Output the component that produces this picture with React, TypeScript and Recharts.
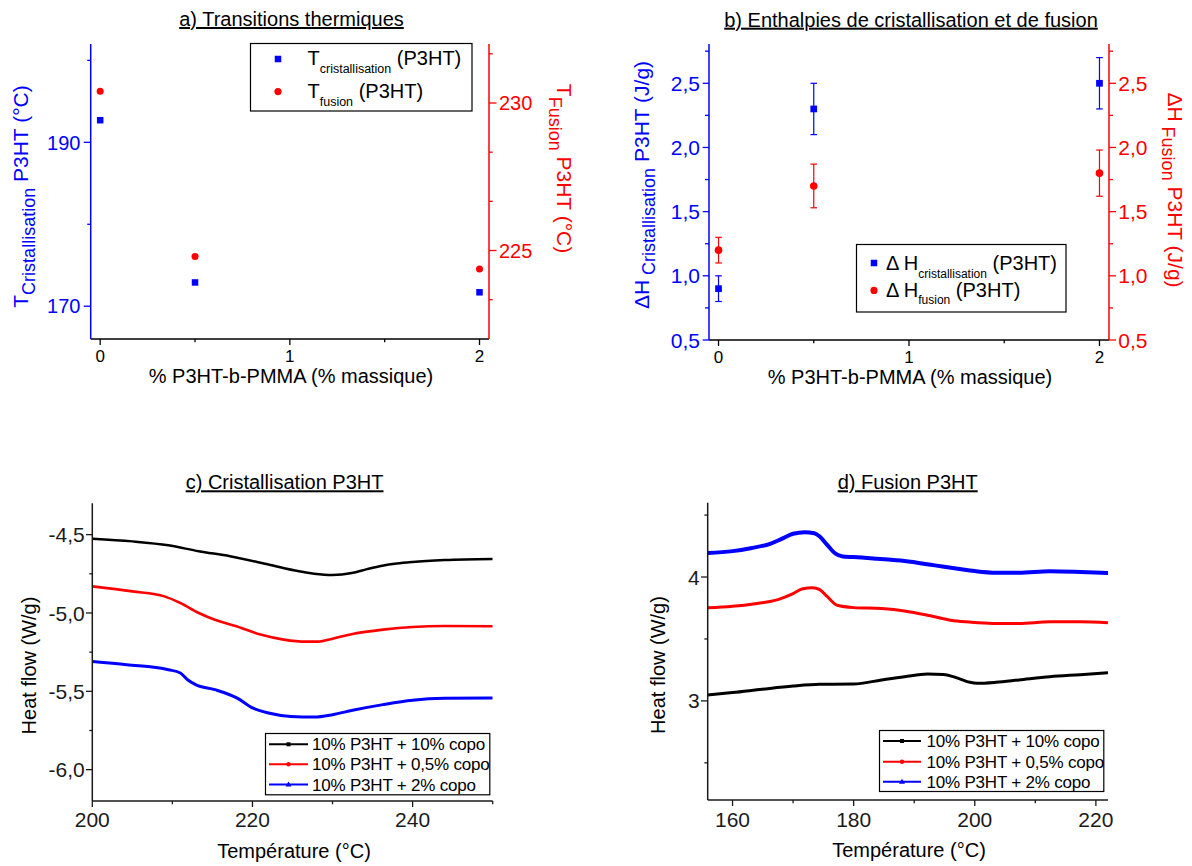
import React from 'react';
import { ScatterChart, Scatter, LineChart, Line, XAxis, YAxis, ErrorBar, Legend } from 'recharts';

const FONT = '"Liberation Sans", Arial, Helvetica, sans-serif';
const BLUE = '#0000ff';
const RED = '#ff0000';
const BLACK = '#000000';
const AXIS_DARK = '#1a1a1a';
const PAGE_W = 1192;
const PAGE_H = 866;

// ---------- a) Transitions thermiques ----------
const aCopo = [0, 0.5, 2];
const aTCristallisation = [192.7, 172.9, 171.7];
const aTFusion = [230.4, 224.8, 224.37];
const aXTicks = [0, 0.5, 1, 1.5, 2];
const aXTickLabels = ['0', '', '1', '', '2'];
const aLeftTicks = [170, 180, 190, 200];
const aLeftTickLabels = ['170', '', '190', ''];
const aRightTicks = [223.333, 225, 226.667, 228.333, 230, 231.667];
const aRightTickLabels = ['', '225', '', '', '230', ''];

// ---------- b) Enthalpies ----------
const bCopo = [0, 0.5, 2];
const bHCristallisation = [0.9, 2.3, 2.5];
const bHCristallisationErr = [0.1, 0.2, 0.2];
const bHFusion = [1.2, 1.7, 1.8];
const bHFusionErr = [0.1, 0.17, 0.18];
const bXTicks = [0, 0.5, 1, 1.5, 2];
const bXTickLabels = ['0', '', '1', '', '2'];
const bYTicks = [0.5, 0.75, 1, 1.25, 1.5, 1.75, 2, 2.25, 2.5, 2.75];
const bYTickLabels = ['0,5', '', '1,0', '', '1,5', '', '2,0', '', '2,5', ''];

// ---------- c) Cristallisation P3HT ----------
const cT10 = [200, 205, 209.5, 213.3, 217.2, 222, 225.8, 227.7, 230, 232.4, 234.3, 236.2, 238, 240, 244, 250];
const cHF10 = [-4.526, -4.543, -4.568, -4.606, -4.638, -4.691, -4.734, -4.749, -4.757, -4.745, -4.72, -4.698, -4.684, -4.674, -4.662, -4.655];
const cT05 = [200, 205, 209, 211, 213.3, 215.3, 218, 221, 223.9, 226.7, 228.2, 230, 232.5, 236.3, 240, 244, 250];
const cHF05 = [-4.83, -4.862, -4.894, -4.936, -5.0, -5.043, -5.085, -5.138, -5.17, -5.183, -5.183, -5.164, -5.134, -5.106, -5.089, -5.083, -5.085];
const cT2 = [200, 204.3, 209.5, 211, 211.9, 212.9, 215.3, 218.1, 220, 222, 224.8, 227.7, 230, 232.5, 236.3, 240, 244, 250];
const cHF2 = [-5.309, -5.33, -5.362, -5.383, -5.426, -5.457, -5.489, -5.543, -5.606, -5.638, -5.66, -5.664, -5.649, -5.621, -5.585, -5.557, -5.545, -5.543];
const cXTicks = [200, 210, 220, 230, 240, 250];
const cXTickLabels = ['200', '', '220', '', '240', ''];
const cYTicks = [-6, -5.75, -5.5, -5.25, -5, -4.75, -4.5];
const cYTickLabels = ['-6,0', '', '-5,5', '', '-5,0', '', '-4,5'];

// ---------- d) Fusion P3HT ----------
const dT2 = [155.9, 160, 163, 166.2, 168.1, 170, 171.9, 173.5, 174.4, 175.7, 177, 178.2, 180, 183.9, 188.4, 193.4, 197.2, 200, 203.5, 207.3, 212.4, 217.5, 222];
const dHF2 = [4.193, 4.209, 4.233, 4.268, 4.308, 4.349, 4.362, 4.354, 4.327, 4.255, 4.188, 4.166, 4.161, 4.147, 4.129, 4.094, 4.067, 4.048, 4.035, 4.035, 4.046, 4.04, 4.032];
const dT05 = [155.9, 160, 163.7, 167.5, 170, 171.6, 173.2, 174.4, 175.7, 177.3, 180, 184.6, 188.4, 192.2, 196, 198.5, 200, 203.5, 207.3, 212.4, 217.4, 222];
const dHF05 = [3.751, 3.764, 3.785, 3.818, 3.866, 3.906, 3.914, 3.898, 3.839, 3.772, 3.753, 3.745, 3.726, 3.692, 3.651, 3.638, 3.633, 3.625, 3.625, 3.638, 3.638, 3.63];
const dT10 = [155.9, 160, 164.9, 170, 174.4, 180, 184.6, 188.4, 192.2, 194.8, 197.3, 199.2, 200.4, 203.5, 207.3, 212.4, 217.4, 222];
const dHF10 = [3.048, 3.067, 3.094, 3.12, 3.134, 3.136, 3.169, 3.195, 3.217, 3.214, 3.182, 3.15, 3.142, 3.15, 3.169, 3.195, 3.212, 3.228];
const dXTicks = [160, 170, 180, 190, 200, 210, 220];
const dXTickLabels = ['160', '', '180', '', '200', '', '220'];
const dYTicks = [2.5, 3, 3.5, 4, 4.5];
const dYTickLabels = ['', '3', '', '4', ''];

const seriesNames = ['10% P3HT + 10% copo', '10% P3HT + 0,5% copo', '10% P3HT + 2% copo'];

// ---------- built tables ----------
const zip = (xs: number[], ys: number[], key = 'y') => xs.map((x, i) => ({ x, [key]: ys[i] }));
const aCristData = zip(aCopo, aTCristallisation);
const aFusionData = zip(aCopo, aTFusion);
const bCristData = bCopo.map((x, i) => ({ x, y: bHCristallisation[i], e: bHCristallisationErr[i] }));
const bFusionData = bCopo.map((x, i) => ({ x, y: bHFusion[i], e: bHFusionErr[i] }));
const curve = (ts: number[], vs: number[]) => ts.map((t, i) => ({ t, v: vs[i] }));

// ---------- ticks ----------
type Side = 'left' | 'right' | 'bottom';
interface TickCfg {
  side: Side; ticks: number[]; labels: string[]; color: string; fontSize: number;
  majorLen: number; minorLen: number; gap: number;
}
function makeTick(c: TickCfg) {
  return (props: any) => {
    const x = Number(props.x);
    const y = Number(props.y);
    const v = props.payload ? props.payload.value : NaN;
    const i = c.ticks.findIndex((t) => Math.abs(t - v) < 1e-3);
    const label = i >= 0 ? c.labels[i] : '';
    const len = label ? c.majorLen : c.minorLen;
    const txt = { fill: c.color, fontSize: c.fontSize, fontFamily: FONT };
    if (c.side === 'left') {
      return (
        <g>
          <line x1={x} y1={y} x2={x - len} y2={y} stroke={c.color} strokeWidth={1.3} />
          {label ? <text x={x - len - c.gap} y={y} dy="0.36em" textAnchor="end" {...txt}>{label}</text> : null}
        </g>
      );
    }
    if (c.side === 'right') {
      return (
        <g>
          <line x1={x} y1={y} x2={x + len} y2={y} stroke={c.color} strokeWidth={1.3} />
          {label ? <text x={x + len + c.gap} y={y} dy="0.36em" textAnchor="start" {...txt}>{label}</text> : null}
        </g>
      );
    }
    return (
      <g>
        <line x1={x} y1={y} x2={x} y2={y + len} stroke={c.color} strokeWidth={1.3} />
        {label ? <text x={x} y={y + c.gap} textAnchor="middle" {...txt}>{label}</text> : null}
      </g>
    );
  };
}

const square = (color: string, s: number) => (p: any) => (
  <rect x={p.cx - s / 2} y={p.cy - s / 2} width={s} height={s} fill={color} />
);
const circle = (color: string, r: number) => (p: any) => (
  <circle cx={p.cx} cy={p.cy} r={r} fill={color} />
);

// ---------- legends ----------
const LegendA = () => (
  <svg width={223} height={69} style={{ display: 'block', overflow: 'visible' }}>
    <rect x={0.5} y={0.5} width={221.5} height={67.5} fill="#fff" stroke="#000" strokeWidth={1.2} />
    <rect x={28 - 3.25} y={16 - 3.25} width={6.5} height={6.5} fill={BLUE} />
    <circle cx={28} cy={48.6} r={3.6} fill={RED} />
    <text x={57.5} y={22.3} fontSize={20} fontFamily={FONT} fill="#000">
      T<tspan fontSize={12.5} dy={8}>cristallisation</tspan><tspan dy={-8}> (P3HT)</tspan>
    </text>
    <text x={57.5} y={55} fontSize={20} fontFamily={FONT} fill="#000">
      T<tspan fontSize={12.5} dy={8}>fusion</tspan><tspan dy={-8}> (P3HT)</tspan>
    </text>
  </svg>
);

const LegendB = () => (
  <svg width={211} height={69} style={{ display: 'block', overflow: 'visible' }}>
    <rect x={0.5} y={0.5} width={209.5} height={67.5} fill="#fff" stroke="#000" strokeWidth={1.2} />
    <rect x={18 - 3.25} y={19 - 3.25} width={6.5} height={6.5} fill={BLUE} />
    <circle cx={18} cy={46.4} r={3.6} fill={RED} />
    <text x={30} y={25.7} fontSize={20} fontFamily={FONT} fill="#000">
      Δ H<tspan fontSize={12} dy={8}>cristallisation</tspan><tspan dy={-8}> (P3HT)</tspan>
    </text>
    <text x={30} y={52.7} fontSize={20} fontFamily={FONT} fill="#000">
      Δ H<tspan fontSize={12} dy={7}>fusion</tspan><tspan dy={-7}> (P3HT)</tspan>
    </text>
  </svg>
);

const LineLegend = ({ w, h, rows, x0, x1, tx }: { w: number; h: number; rows: number[]; x0: number; x1: number; tx: number }) => {
  const colors = [BLACK, RED, BLUE];
  const mx = (x0 + x1) / 2;
  return (
    <svg width={w + 1} height={h + 1} style={{ display: 'block', overflow: 'visible' }}>
      <rect x={0.5} y={0.5} width={w} height={h} fill="#fff" stroke="#000" strokeWidth={1.2} />
      {rows.map((ry, i) => (
        <g key={i}>
          <line x1={x0} y1={ry} x2={x1} y2={ry} stroke={colors[i]} strokeWidth={2} />
          {i === 0 && <rect x={mx - 2} y={ry - 2} width={4} height={4} fill={colors[i]} />}
          {i === 1 && <circle cx={mx} cy={ry} r={2.2} fill={colors[i]} />}
          {i === 2 && <polygon points={`${mx},${ry - 3} ${mx - 3},${ry + 2} ${mx + 3},${ry + 2}`} fill={colors[i]} />}
          <text x={tx} y={ry + 6} fontSize={17} letterSpacing={-0.2} fontFamily={FONT} fill="#000">{seriesNames[i]}</text>
        </g>
      ))}
    </svg>
  );
};

const abs: React.CSSProperties = { position: 'absolute', left: 0, top: 0 };
const legendProps = { layout: 'vertical' as const, align: 'center' as const, verticalAlign: 'middle' as const };

export default function App() {
  return (
    <div style={{ position: 'absolute', left: 0, top: 0, width: PAGE_W, height: PAGE_H, background: '#fff', fontFamily: FONT, overflow: 'hidden' }}>
      {/* a */}
      <div style={abs}>
        <ScatterChart width={PAGE_W} height={PAGE_H} margin={{ top: 44, right: PAGE_W - 489 - 10, bottom: PAGE_H - 339 - 10, left: 90.7 - 10 }}>
          <XAxis type="number" dataKey="x" domain={[-0.05, 2.05]} ticks={aXTicks} interval={0} allowDataOverflow height={10}
            tickSize={0} tickMargin={0} tickLine={false} axisLine={{ stroke: BLACK, strokeWidth: 1.5 }}
            tick={makeTick({ side: 'bottom', ticks: aXTicks, labels: aXTickLabels, color: BLACK, fontSize: 17, majorLen: 6, minorLen: 3.3, gap: 22.5 })} />
          <YAxis yAxisId="l" orientation="left" type="number" domain={[166, 202]} ticks={aLeftTicks} interval={0} allowDataOverflow width={10}
            tickSize={0} tickMargin={0} tickLine={false} axisLine={{ stroke: BLUE, strokeWidth: 1.5 }}
            tick={makeTick({ side: 'left', ticks: aLeftTicks, labels: aLeftTickLabels, color: BLUE, fontSize: 20, majorLen: 7, minorLen: 3.5, gap: 3.3 })} />
          <YAxis yAxisId="r" orientation="right" type="number" domain={[222, 232]} ticks={aRightTicks} interval={0} allowDataOverflow width={10}
            tickSize={0} tickMargin={0} tickLine={false} axisLine={{ stroke: RED, strokeWidth: 1.5 }}
            tick={makeTick({ side: 'right', ticks: aRightTicks, labels: aRightTickLabels, color: RED, fontSize: 20, majorLen: 7.5, minorLen: 3.7, gap: 2.5 })} />
          <Scatter yAxisId="l" data={aCristData} dataKey="y" fill={BLUE} shape={square(BLUE, 6.5)} isAnimationActive={false} />
          <Scatter yAxisId="r" data={aFusionData} dataKey="y" fill={RED} shape={circle(RED, 3.5)} isAnimationActive={false} />
          <Legend {...legendProps} width={223} height={69} wrapperStyle={{ left: 250, top: 42.5, width: 223, height: 69 }} content={() => <LegendA />} />
        </ScatterChart>
      </div>

      {/* b */}
      <div style={abs}>
        <ScatterChart width={PAGE_W} height={PAGE_H} margin={{ top: 44, right: PAGE_W - 1109 - 10, bottom: PAGE_H - 340 - 10, left: 709 - 10 }}>
          <XAxis type="number" dataKey="x" domain={[-0.05, 2.05]} ticks={bXTicks} interval={0} allowDataOverflow height={10}
            tickSize={0} tickMargin={0} tickLine={false} axisLine={{ stroke: BLACK, strokeWidth: 1.5 }}
            tick={makeTick({ side: 'bottom', ticks: bXTicks, labels: bXTickLabels, color: BLACK, fontSize: 17, majorLen: 6, minorLen: 3.3, gap: 23.3 })} />
          <YAxis yAxisId="l" orientation="left" type="number" domain={[0.5, 2.806]} ticks={bYTicks} interval={0} allowDataOverflow width={10}
            tickSize={0} tickMargin={0} tickLine={false} axisLine={{ stroke: BLUE, strokeWidth: 1.5 }}
            tick={makeTick({ side: 'left', ticks: bYTicks, labels: bYTickLabels, color: BLUE, fontSize: 21, majorLen: 6.3, minorLen: 4, gap: 2.7 })} />
          <YAxis yAxisId="r" orientation="right" type="number" domain={[0.5, 2.806]} ticks={bYTicks} interval={0} allowDataOverflow width={10}
            tickSize={0} tickMargin={0} tickLine={false} axisLine={{ stroke: RED, strokeWidth: 1.5 }}
            tick={makeTick({ side: 'right', ticks: bYTicks, labels: bYTickLabels, color: RED, fontSize: 21, majorLen: 7, minorLen: 4, gap: 2.3 })} />
          <Scatter yAxisId="l" data={bCristData} dataKey="y" fill={BLUE} shape={square(BLUE, 6.7)} isAnimationActive={false}>
            <ErrorBar dataKey="e" direction="y" width={3.3} stroke={BLUE} strokeWidth={1.2} />
          </Scatter>
          <Scatter yAxisId="r" data={bFusionData} dataKey="y" fill={RED} shape={circle(RED, 3.8)} isAnimationActive={false}>
            <ErrorBar dataKey="e" direction="y" width={3.3} stroke={RED} strokeWidth={1.2} />
          </Scatter>
          <Legend {...legendProps} width={211} height={69} wrapperStyle={{ left: 856, top: 244, width: 211, height: 69 }} content={() => <LegendB />} />
        </ScatterChart>
      </div>

      {/* c */}
      <div style={abs}>
        <LineChart width={PAGE_W} height={PAGE_H} margin={{ top: 503.3, right: PAGE_W - 492.7, bottom: PAGE_H - 801 - 10, left: 92.3 - 10 }}>
          <XAxis type="number" dataKey="t" domain={[200, 250]} ticks={cXTicks} interval={0} allowDataOverflow height={10}
            tickSize={0} tickMargin={0} tickLine={false} axisLine={{ stroke: AXIS_DARK, strokeWidth: 1.5 }}
            tick={makeTick({ side: 'bottom', ticks: cXTicks, labels: cXTickLabels, color: AXIS_DARK, fontSize: 21, majorLen: 6, minorLen: 3.3, gap: 25.7 })} />
          <YAxis type="number" domain={[-6.2, -4.3]} ticks={cYTicks} interval={0} allowDataOverflow width={10}
            tickSize={0} tickMargin={0} tickLine={false} axisLine={{ stroke: AXIS_DARK, strokeWidth: 1.5 }}
            tick={makeTick({ side: 'left', ticks: cYTicks, labels: cYTickLabels, color: AXIS_DARK, fontSize: 21, majorLen: 6.3, minorLen: 3, gap: 1.2 })} />
          <Line data={curve(cT10, cHF10)} dataKey="v" type="monotone" stroke={BLACK} strokeWidth={2.5} dot={false} isAnimationActive={false} />
          <Line data={curve(cT05, cHF05)} dataKey="v" type="monotone" stroke={RED} strokeWidth={2.6} dot={false} isAnimationActive={false} />
          <Line data={curve(cT2, cHF2)} dataKey="v" type="monotone" stroke={BLUE} strokeWidth={3} dot={false} isAnimationActive={false} />
          <Legend {...legendProps} width={226} height={63} wrapperStyle={{ left: 265, top: 732.5, width: 226, height: 63 }}
            content={() => <LineLegend w={224.3} h={61.3} rows={[11.3, 31.3, 51.6]} x0={4} x1={43} tx={47} />} />
        </LineChart>
      </div>

      {/* d */}
      <div style={abs}>
        <LineChart width={PAGE_W} height={PAGE_H} margin={{ top: 502.7, right: PAGE_W - 1108, bottom: PAGE_H - 800 - 10, left: 707.7 - 10 }}>
          <XAxis type="number" dataKey="t" domain={[155.9, 222]} ticks={dXTicks} interval={0} allowDataOverflow height={10}
            tickSize={0} tickMargin={0} tickLine={false} axisLine={{ stroke: AXIS_DARK, strokeWidth: 1.5 }}
            tick={makeTick({ side: 'bottom', ticks: dXTicks, labels: dXTickLabels, color: AXIS_DARK, fontSize: 21, majorLen: 6, minorLen: 3.3, gap: 26.7 })} />
          <YAxis type="number" domain={[2.2, 4.6]} ticks={dYTicks} interval={0} allowDataOverflow width={10}
            tickSize={0} tickMargin={0} tickLine={false} axisLine={{ stroke: AXIS_DARK, strokeWidth: 1.5 }}
            tick={makeTick({ side: 'left', ticks: dYTicks, labels: dYTickLabels, color: AXIS_DARK, fontSize: 21, majorLen: 6.7, minorLen: 3.3, gap: 1.2 })} />
          <Line data={curve(dT10, dHF10)} dataKey="v" type="monotone" stroke={BLACK} strokeWidth={3} dot={false} isAnimationActive={false} />
          <Line data={curve(dT05, dHF05)} dataKey="v" type="monotone" stroke={RED} strokeWidth={3} dot={false} isAnimationActive={false} />
          <Line data={curve(dT2, dHF2)} dataKey="v" type="monotone" stroke={BLUE} strokeWidth={4} dot={false} isAnimationActive={false} />
          <Legend {...legendProps} width={226} height={63} wrapperStyle={{ left: 879, top: 730, width: 226, height: 63 }}
            content={() => <LineLegend w={224.3} h={61} rows={[11, 31.7, 51.7]} x0={4} x1={42} tx={47.5} />} />
        </LineChart>
      </div>

      {/* titles and axis labels */}
      <svg width={PAGE_W} height={PAGE_H} style={{ ...abs, pointerEvents: 'none' }} fontFamily={FONT}>
        <g fontSize={20} fill="#000" textAnchor="middle" style={{ textDecoration: 'underline' }}>
          <text x={291.5} y={26}>a) Transitions thermiques</text>
          <text x={911} y={26.7}>b) Enthalpies de cristallisation et de fusion</text>
          <text x={284.6} y={489.3}>c) Cristallisation P3HT</text>
          <text x={907.7} y={489.3}>d) Fusion P3HT</text>
        </g>
        <g fontSize={20} fill="#000" textAnchor="middle">
          <text x={291} y={383.3}>% P3HT-b-PMMA (% massique)</text>
          <text x={910} y={384}>% P3HT-b-PMMA (% massique)</text>
          <text x={294} y={858.3}>Température (°C)</text>
          <text x={909} y={857.3}>Température (°C)</text>
          <text transform="translate(36,665.5) rotate(-90)">Heat flow (W/g)</text>
          <text transform="translate(664.6,665) rotate(-90)">Heat flow (W/g)</text>
        </g>
        <text transform="translate(28,196.5) rotate(-90)" textAnchor="middle" fontSize={21} fill={BLUE}>
          T<tspan fontSize={18} dy={7}>Cristallisation</tspan><tspan dy={-7}> P3HT (°C)</tspan>
        </text>
        <text transform="translate(557,168.5) rotate(90)" textAnchor="middle" fontSize={21} fill={RED}>
          T<tspan fontSize={18} dy={8}>Fusion</tspan><tspan dy={-8}> P3HT (°C)</tspan>
        </text>
        <text transform="translate(649,185) rotate(-90)" textAnchor="middle" fontSize={21} fill={BLUE}>
          ΔH<tspan fontSize={18} dy={6}> Cristallisation</tspan><tspan dy={-6}> P3HT (J/g)</tspan>
        </text>
        <text transform="translate(1168,190) rotate(90)" textAnchor="middle" fontSize={21} fill={RED}>
          ΔH<tspan fontSize={18} dy={6}> Fusion</tspan><tspan dy={-6}> P3HT (J/g)</tspan>
        </text>
      </svg>
    </div>
  );
}
